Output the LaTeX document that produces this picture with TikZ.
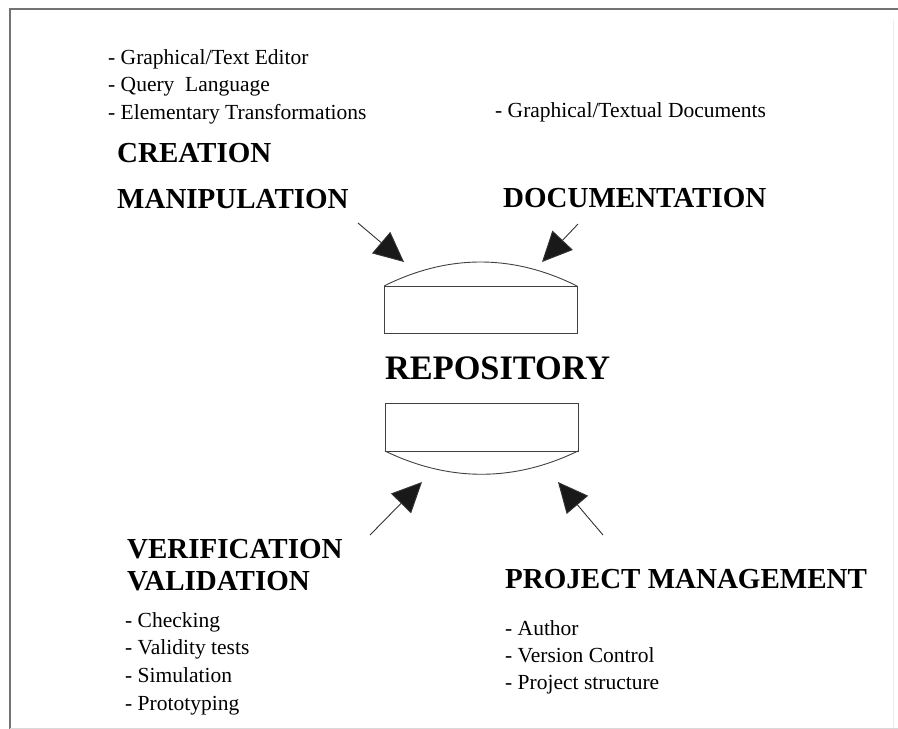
\documentclass[tikz,border=0pt]{standalone}
\usepackage{fontspec}
\setmainfont{Liberation Serif}
\usetikzlibrary{arrows.meta}

\begin{document}
\begin{tikzpicture}[
            x = 1pt, y = -1pt,
            head/.style = {anchor = base west, inner sep = 0pt, font = \fontsize{29}{31}\selectfont\bfseries},
            item/.style = {anchor = base west, inner sep = 0pt, font = \fontsize{21.5}{24}\selectfont},
            box/.style = {draw = black!75, line width = 0.9pt},
            arr/.style = {draw = black!80, line width = 0.9pt, -{Triangle[length = 30pt, width = 28pt, fill = black!90]}}
            ]
            \useasboundingbox (0,0) rectangle (898,729);
            % frame
            \draw[black!55, line width = 1.4pt] (9,9) -- (898,9);
            \draw[black!55, line width = 1.4pt] (10,9) -- (10,729);
            \draw[black!15, line width = 0.8pt] (10,728) -- (898,728);
            \draw[black!7, line width = 0.8pt] (893,20) -- (893,728);

            % repository
            \draw[box] (384,286) rectangle (577,333);
            \draw[box] (384,286) .. controls (448,254) and (513,254) .. (577,286);
            \draw[box] (385,403) rectangle (578,451);
            \draw[box] (385,451) .. controls (449,482) and (514,482) .. (578,451);
            \node[head, font = \fontsize{34.3}{36}\selectfont\bfseries] (repo) at (385,379) {REPOSITORY};

            % creation / manipulation
            \foreach \t [count = \i] in {- Graphical/Text Editor, - Query\ \ Language, - Elementary Transformations}
                \node[item] (crt\i) at (108, {36.5 + 27.5*\i}) {\t};
            \node[head] (creation) at (117,162) {CREATION};
            \node[head] (manip) at (117,208) {MANIPULATION};

            % documentation
            \node[item] (doc1) at (495,117) {- Graphical/Textual Documents};
            \node[head] (doc) at (503,207) {DOCUMENTATION};

            % verification / validation
            \node[head] (verif) at (127,558) {VERIFICATION};
            \node[head] (valid) at (127,590) {VALIDATION};
            \foreach \t [count = \i] in {- Checking, - Validity tests, - Simulation, - Prototyping}
                \node[item] (ver\i) at (125, {599.3 + 27.7*\i}) {\t};

            % project management
            \node[head] (pm) at (505,588) {PROJECT MANAGEMENT};
            \foreach \t [count = \i] in {- Author, - Version Control, - Project structure}
                \node[item] (pm\i) at (505, {608 + 27*\i}) {\t};

            % arrows
            \coordinate (tlfrom) at (358,223);
            \coordinate (tlto) at (404,262);
            \coordinate (trfrom) at (578,224);
            \coordinate (trto) at (542,262);
            \coordinate (blfrom) at (370,535);
            \coordinate (blto) at (422,482);
            \coordinate (brfrom) at (603,535);
            \coordinate (brto) at (558,482);
            \draw[arr] (tlfrom) -- (tlto);
            \draw[arr] (trfrom) -- (trto);
            \draw[arr] (blfrom) -- (blto);
            \draw[arr] (brfrom) -- (brto);
          \end{tikzpicture}
\end{document}
